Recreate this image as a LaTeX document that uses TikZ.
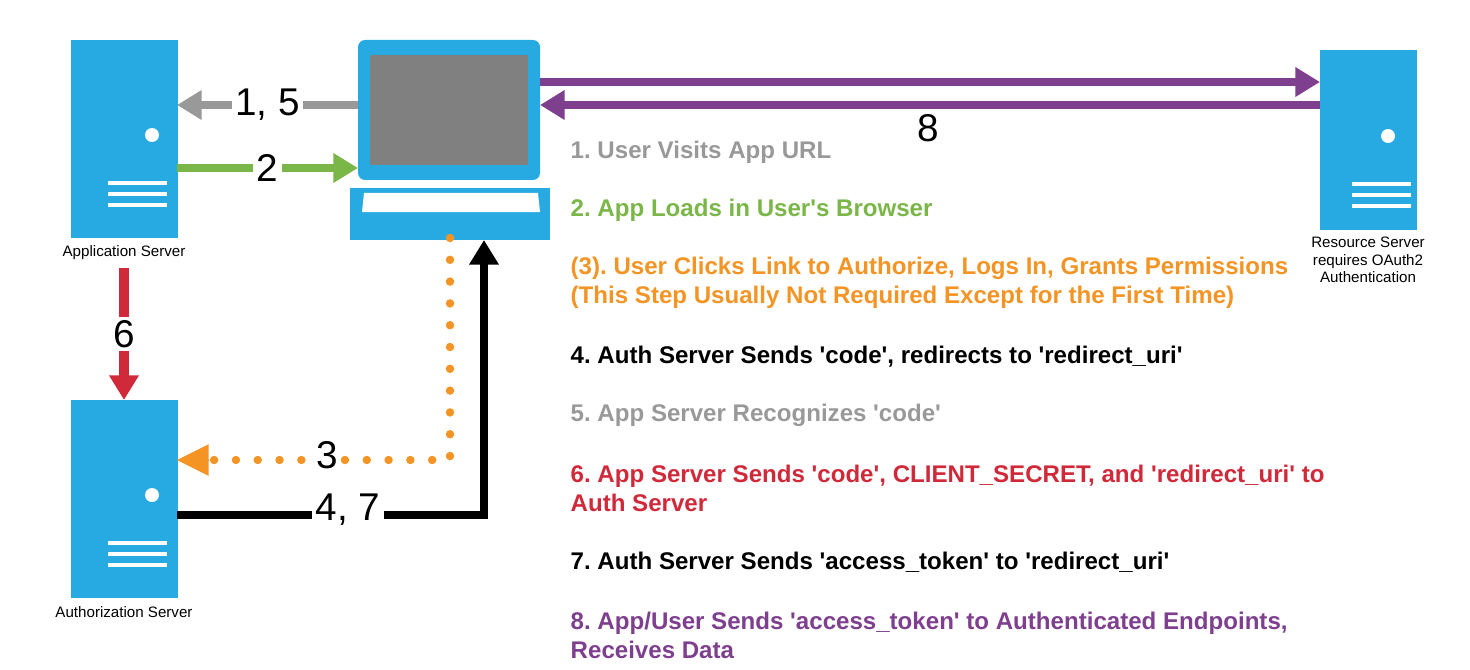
\documentclass[tikz,border=0pt]{standalone}
\usepackage{fontspec}
\setmainfont{Liberation Sans}[Ligatures=TeXOff]
\usetikzlibrary{arrows.meta}
\definecolor{srvblue}{HTML}{27AAE1}
\definecolor{stepgray}{HTML}{999999}
\definecolor{stepgreen}{HTML}{7AB648}
\definecolor{steppurple}{HTML}{7F3F8F}
\definecolor{stepred}{HTML}{D0293A}
\definecolor{steporange}{HTML}{F39425}
\definecolor{screengray}{HTML}{808080}
\frenchspacing
\begin{document}
\begin{tikzpicture}[x=0.01cm, y=-0.01cm,
  server/.style={fill=srvblue, draw=none, minimum width=107*0.01cm, minimum height=198*0.01cm, inner sep=0pt},
  caption/.style={font=\fontsize{4.3}{5}\selectfont, align=center},
  flow/.style={line width=2.2pt, -{Triangle[length=7pt,width=8pt]}},
  num/.style={fill=white, text=black, inner sep=1pt, font=\fontsize{11}{12}\selectfont},
  steptext/.style={anchor=west, inner sep=0pt, font=\bfseries\fontsize{6.85}{8.2}\selectfont, align=left}]

  \useasboundingbox (0,0) rectangle (1470,670);

  % servers
  \node[server] (app) at (124,139) {};
  \node[server] (auth) at (124,499) {};
  \node[server, minimum width=97*0.01cm, minimum height=180*0.01cm] (res) at (1368,140) {};
  \foreach \s/\dx in {app/28, auth/28, res/20} {
    \fill[white] ([xshift=\dx*0.01cm, yshift=4*0.01cm]\s.center) circle (7);
    \foreach \dy in {44,55,66}
      \draw[white, line width=1.2pt] ([xshift=-16*0.01cm, yshift=-\dy*0.01cm]\s.center) -- ([xshift=43*0.01cm, yshift=-\dy*0.01cm]\s.center);
  }
  \node[caption] at (124,253) {Application Server};
  \node[caption] at (124,612) {Authorization Server};
  \node[caption] at (1368,260) {Resource Server\\requires OAuth2\\Authentication};

  % laptop
  \node[fill=srvblue, rounded corners=2pt, minimum width=182*0.01cm, minimum height=140*0.01cm, inner sep=0pt] (screen) at (449,110) {};
  \fill[screengray] (370,55) rectangle (528,165);
  \node[fill=srvblue, minimum width=200*0.01cm, minimum height=52*0.01cm, inner sep=0pt] (base) at (450,214) {};
  \fill[white] (364,193) -- (538,193) -- (540,212) -- (362,212) -- cycle;

  % endpoints
  \coordinate (a15) at (177,105);  \coordinate (l15) at (358,105);
  \coordinate (a2) at (177,168);   \coordinate (l2) at (358,168);
  \coordinate (l8) at (540,82);    \coordinate (r8) at (1320,82);
  \coordinate (l8b) at (540,105);  \coordinate (r8b) at (1320,105);
  \coordinate (a6) at (124,268);   \coordinate (u6) at (124,400);
  \coordinate (l3) at (450,238);   \coordinate (c3) at (450,460);  \coordinate (u3) at (177,460);
  \coordinate (u4) at (177,515);   \coordinate (c4) at (484,515);  \coordinate (l4) at (484,240);

  % arrows
  \draw[flow, stepgray] (l15) -- node[num]{1, 5} (a15);
  \draw[flow, stepgreen] (a2) -- node[num]{2} (l2);
  \draw[flow, steppurple] (l8) -- (r8);
  \draw[flow, steppurple] (r8b) -- (l8b);
  \node[num] at (928,128) {8};
  \draw[flow, stepred, line width=2.6pt] (a6) -- node[num]{6} (u6);
  \draw[steporange, line width=2.4pt, line cap=round, dash pattern=on 0pt off 6.2pt] (l3) -- (c3) -- (u3);
  \draw[steporange, -{Triangle[length=9pt,width=9pt]}, line width=0pt] (200,460) -- (u3);
  \node[num] at (327,455) {3};
  \draw[flow, black, line width=2pt] (u4) -- (c4) -- (l4);
  \node[num] at (348,510) {4, 7};

  % step list
  \node[steptext, stepgray] at (570,152) {1. User Visits App URL};
  \node[steptext, stepgreen] at (570,210) {2. App Loads in User's Browser};
  \node[steptext, steporange] at (570,283) {(3). User Clicks Link to Authorize, Logs In, Grants Permissions\\(This Step Usually Not Required Except for the First Time)};
  \node[steptext, black] at (570,357) {4. Auth Server Sends 'code', redirects to 'redirect\_uri'};
  \node[steptext, stepgray] at (570,415) {5. App Server Recognizes 'code'};
  \node[steptext, stepred] at (570,488) {6. App Server Sends 'code', CLIENT\_SECRET, and 'redirect\_uri' to\\Auth Server};
  \node[steptext, black] at (570,562) {7. Auth Server Sends 'access\_token' to 'redirect\_uri'};
  \node[steptext, steppurple] at (570,635) {8. App/User Sends 'access\_token' to Authenticated Endpoints,\\Receives Data};
\end{tikzpicture}
\end{document}
